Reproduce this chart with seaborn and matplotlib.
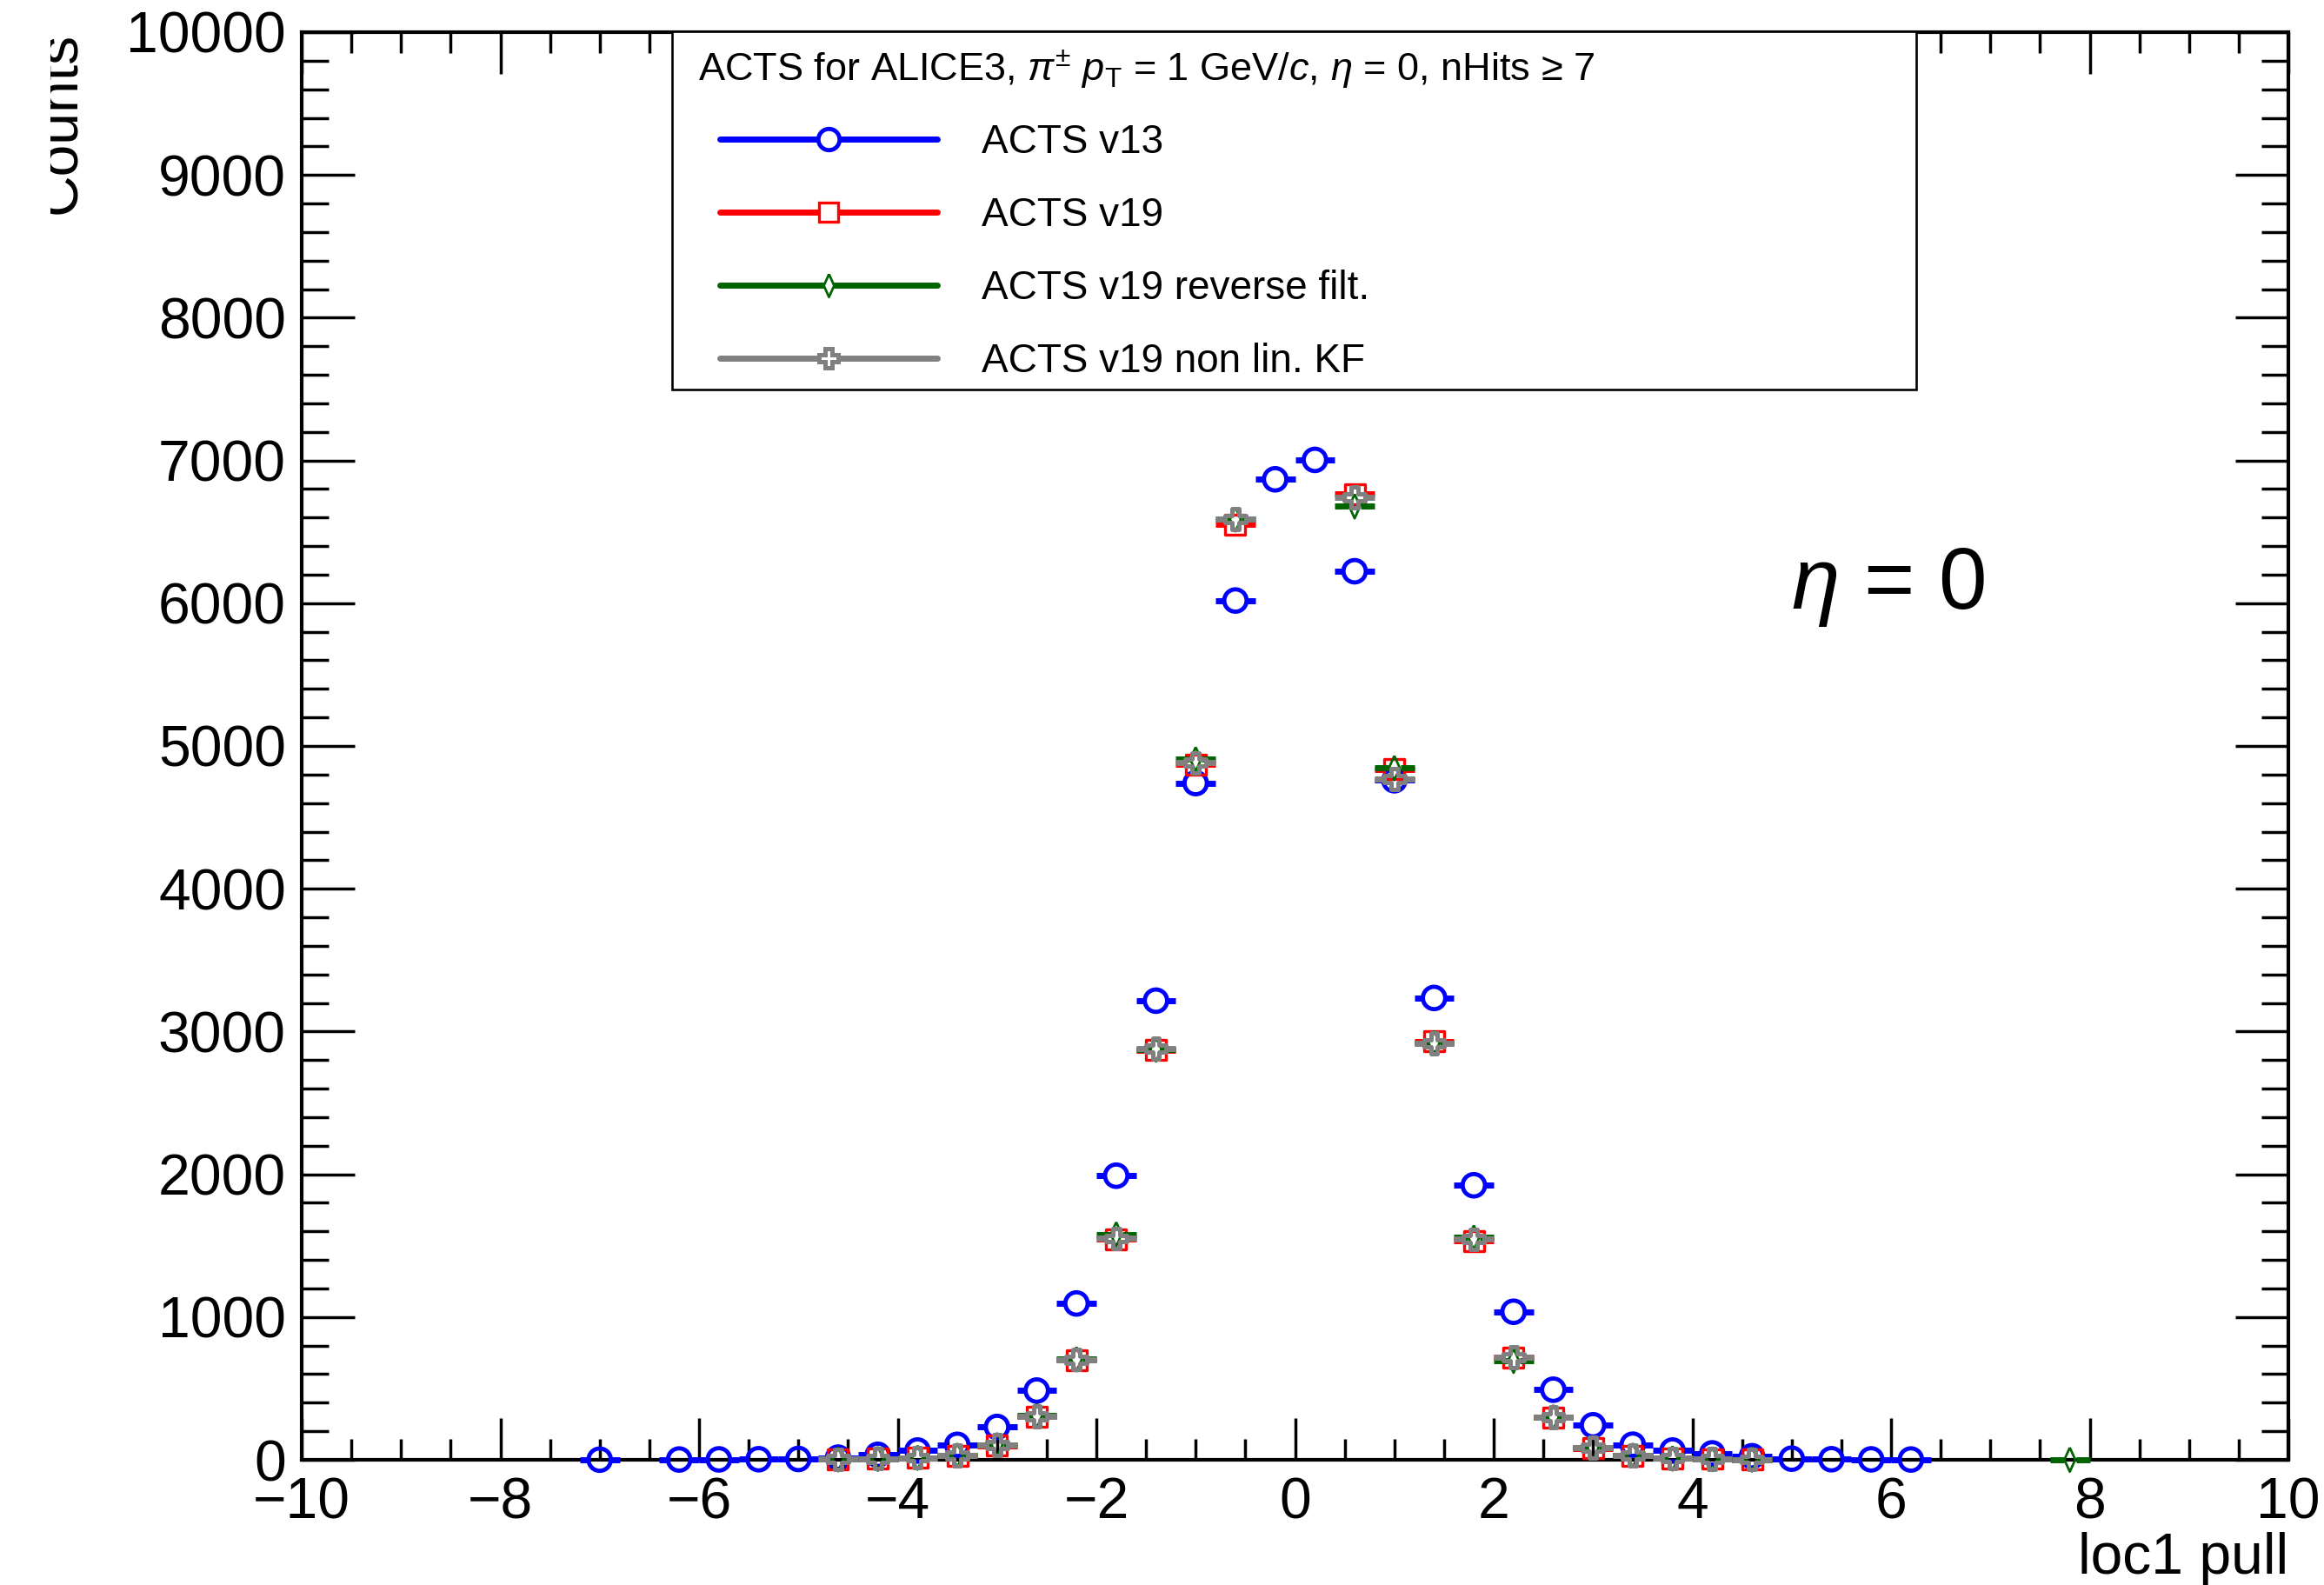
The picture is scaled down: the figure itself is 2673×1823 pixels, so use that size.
import numpy as np
import pandas as pd
import matplotlib
matplotlib.use("Agg")
import matplotlib.pyplot as plt
import seaborn as sns
from matplotlib.lines import Line2D
from matplotlib.patches import Rectangle
from matplotlib.transforms import Bbox
from matplotlib.ticker import MultipleLocator

nan = np.nan

# ---------------- data ----------------
pull_bins = [-7.0, -6.6, -6.2, -5.8, -5.4, -5.0, -4.6, -4.2, -3.8, -3.4,
             -3.0, -2.6, -2.2, -1.8, -1.4, -1.0, -0.6, -0.2, 0.2, 0.6,
             1.0, 1.4, 1.8, 2.2, 2.6, 3.0, 3.4, 3.8, 4.2, 4.6,
             5.0, 5.4, 5.8, 6.2, 6.6, 7.0, 7.4, 7.8]

counts_v13 = [1, nan, 2, 3, 4, 6, 15, 35, 65, 105,
              230, 485, 1095, 1990, 3216, 4740, 6019, 6868, 7004, 6224,
              4760, 3235, 1923, 1037, 491, 242, 106, 65, 45, 25,
              8, 4, 3, 2, nan, nan, nan, nan]

counts_v19 = [nan, nan, nan, nan, nan, nan, 4, 8, 14, 30,
              100, 303, 699, 1545, 2869, 4870, 6551, nan, nan, 6764,
              4836, 2932, 1533, 717, 298, 81, 30, 10, 6, 3,
              nan, nan, nan, nan, nan, nan, nan, nan]

counts_v19_rev = [nan, nan, nan, nan, nan, nan, 4, 8, 15, 32,
                  105, 310, 705, 1580, 2875, 4907, 6588, nan, nan, 6679,
                  4846, 2920, 1557, 694, 300, 85, 32, 10, 6, 3,
                  nan, nan, nan, nan, nan, nan, nan, 1]

counts_v19_nonlin = [nan, nan, nan, nan, nan, nan, 4, 8, 15, 30,
                     105, 305, 703, 1550, 2880, 4882, 6588, nan, nan, 6743,
                     4770, 2916, 1545, 720, 300, 85, 30, 10, 6, 3,
                     nan, nan, nan, nan, nan, nan, nan, nan]

series_labels = ["ACTS v13", "ACTS v19", "ACTS v19 reverse filt.", "ACTS v19 non lin. KF"]
bin_half_width = 0.2

x_ticks = [-10, -8, -6, -4, -2, 0, 2, 4, 6, 8, 10]
y_ticks = [0, 1000, 2000, 3000, 4000, 5000, 6000, 7000, 8000, 9000, 10000]

header_text = r"ACTS for ALICE3, $\pi^{\pm}$ $p_{\mathrm{T}}$ = 1 GeV/$c$, $\eta$ = 0, nHits ≥ 7"
annotation_text = r"$\eta$ = 0"
x_label = "loc1 pull"
y_label = "Counts"

# ---------------- styles ----------------
thin_diamond = [(0, 1), (0.45, 0), (0, -1), (-0.45, 0), (0, 1)]
colors = ["#0000ff", "#ff0000", "#006400", "#808080"]
markers = ["o", "s", thin_diamond, "P"]
marker_size = [18.5, 16.5, 20.0, 17.0]      # points
marker_edge = [3.5, 2.4, 2.0, 3.6]          # points
marker_gap = [0.11, 0.10, 0.06, 0.10]       # error-bar gap around the marker (x units)

# ---------------- build table ----------------
frames = []
for lab, vals in zip(series_labels, [counts_v13, counts_v19, counts_v19_rev, counts_v19_nonlin]):
    frames.append(pd.DataFrame({"pull": pull_bins, "counts": vals, "series": lab}))
df = pd.concat(frames, ignore_index=True).dropna()

sns.set_theme(style="ticks")
plt.rcParams["font.family"] = ["Liberation Sans", "DejaVu Sans"]
plt.rcParams["mathtext.fontset"] = "custom"
plt.rcParams["mathtext.rm"] = "Liberation Sans"
plt.rcParams["mathtext.it"] = "Liberation Sans:italic"
plt.rcParams["mathtext.bf"] = "Liberation Sans:bold"
plt.rcParams["axes.unicode_minus"] = True
for k in ["text.color", "axes.labelcolor", "xtick.color", "ytick.color",
          "xtick.labelcolor", "ytick.labelcolor", "axes.edgecolor"]:
    plt.rcParams[k] = "black"

W, H = 2673, 1823
fig = plt.figure(figsize=(W / 100, H / 100), dpi=100)
fig.patch.set_facecolor("white")
ax = fig.add_axes([347 / W, 144 / H, 2285 / W, 1642 / H])
ax.set_facecolor("white")

for i, lab in enumerate(series_labels):
    sub = df[df["series"] == lab]
    xs = sub["pull"].to_numpy()
    ys = sub["counts"].to_numpy()
    # horizontal (bin-width) error bars, interrupted by the marker as in ROOT
    ax.hlines(ys, xs - bin_half_width, xs - marker_gap[i], colors=colors[i],
              linewidth=5.0, zorder=2 + 2 * i, clip_on=False)
    ax.hlines(ys, xs + marker_gap[i], xs + bin_half_width, colors=colors[i],
              linewidth=5.0, zorder=2 + 2 * i, clip_on=False)
    sns.scatterplot(data=sub, x="pull", y="counts", marker=markers[i],
                    s=marker_size[i] ** 2, facecolor="none", edgecolor=colors[i],
                    linewidth=marker_edge[i], ax=ax, zorder=3 + 2 * i, legend=False,
                    clip_on=False)

ax.set_xlim(-10, 10)
ax.set_ylim(0, 10000)
ax.set_xticks(x_ticks)
ax.set_yticks(y_ticks)
ax.xaxis.set_minor_locator(MultipleLocator(0.5))
ax.yaxis.set_minor_locator(MultipleLocator(200))
ax.grid(False)

for sp in ax.spines.values():
    sp.set_visible(True)
    sp.set_color("black")
    sp.set_linewidth(3.0)
    sp.set_zorder(1.5)

ax.tick_params(axis="both", which="both", direction="in", top=True, right=True,
               color="black", labelcolor="black", width=2.5)
ax.tick_params(axis="x", which="major", length=34.5, pad=14, labelsize=47.5)
ax.tick_params(axis="x", which="minor", length=17)
ax.tick_params(axis="y", which="major", length=44, pad=13, labelsize=47.5)
ax.tick_params(axis="y", which="minor", length=22)

# axis labels
ax.set_xlabel(x_label, fontsize=47.5, loc="right", color="black")
ax.xaxis.set_label_coords(1.0, (13 - 144) / 1642)
ax.xaxis.label.set_va("baseline")
ax.xaxis.label.set_ha("right")

ax.set_ylabel(y_label, fontsize=47.5, loc="top", color="black")
ax.yaxis.set_label_coords((87 - 347) / 2285, 1.0)
yl = ax.yaxis.label
yl.set_rotation(90)
yl.set_rotation_mode("anchor")
yl.set_ha("right")
yl.set_va("baseline")
yl.set_clip_box(Bbox.from_extents(58, 0, W, H))
yl.set_clip_on(True)

# annotation
ax.text((2060 - 347) / 2285, (1679 - 700) / 1642, annotation_text,
        transform=ax.transAxes, fontsize=72, ha="left", va="baseline", color="black")

# legend box + header + entries
ax.add_patch(Rectangle((773 / W, 1 - 448 / H), (2204 - 773) / W, (448 - 36) / H,
                       transform=fig.transFigure, facecolor="white", edgecolor="black",
                       linewidth=1.9, zorder=20, clip_on=False))
ax.text(803 / W, 1 - 93 / H, header_text, transform=fig.transFigure,
        fontsize=32.5, ha="left", va="baseline", zorder=21, color="black")

handles = [Line2D([0], [0], color=colors[i], lw=5, marker=markers[i],
                  markersize=marker_size[i] * 0.95,
                  markerfacecolor="white",
                  markeredgecolor=colors[i], markeredgewidth=marker_edge[i])
           for i in range(4)]
leg = ax.legend(handles, series_labels, loc="upper left",
                bbox_to_anchor=(828 / W, 1 - 142 / H), bbox_transform=fig.transFigure,
                frameon=False, fontsize=33, handlelength=5.46, handletextpad=1.1,
                labelspacing=0.87, borderpad=0, borderaxespad=0, numpoints=1)
for t in leg.get_texts():
    t.set_color("black")
leg.set_zorder(22)

fig.savefig("out.png", dpi=100, facecolor="white")
